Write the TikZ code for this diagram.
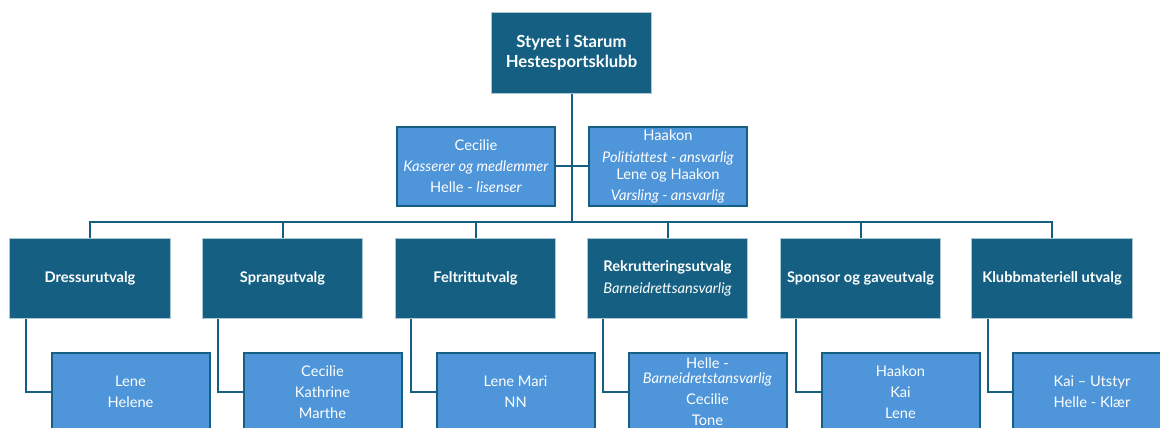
\documentclass[tikz,border=0pt]{standalone}
\usepackage{fontspec}
\setmainfont{Lato}
\usetikzlibrary{calc,backgrounds}
\definecolor{dk}{HTML}{156082}
\definecolor{lt}{HTML}{4E95D9}
\begin{document}
\begin{tikzpicture}[x=0.75pt,y=-0.75pt,
  dkbox/.style={rectangle, fill=dk, draw=white!65!dk, line width=0.6pt,
    minimum width=120.3pt, minimum height=60.3pt, inner sep=0pt, text=white,
    align=center, font=\bfseries\fontsize{11}{15.75}\selectfont},
  ltbox/.style={rectangle, fill=lt, draw=dk, line width=1.5pt,
    minimum width=118.5pt, minimum height=59.25pt, inner sep=0pt, text=white,
    align=center, font=\fontsize{11}{15.75}\selectfont},
  conn/.style={draw=dk, line width=1.5pt}]
\useasboundingbox (0,0) rectangle (1160,428);
\clip (0,0) rectangle (1160,428);

% top and assistants
\node[dkbox, font=\bfseries\fontsize{12.5}{15}\selectfont] (top) at (571.5,53) {Styret i Starum\\Hestesportsklubb};
\node[ltbox] (asl) at (476,166) {Cecilie\\\textit{Kasserer og medlemmer}\\Helle - \textit{lisenser}};
\node[ltbox] (asr) at (668,166) {Haakon\\[0.75pt]\textit{Politiattest - ansvarlig}\\[-3pt]Lene og Haakon\\\textit{Varsling - ansvarlig}};

% departments
\node[dkbox] (d1) at (90,278.5) {Dressurutvalg};
\node[dkbox] (d2) at (282.5,278.5) {Sprangutvalg};
\node[dkbox] (d3) at (475.5,278.5) {Feltrittutvalg};
\node[dkbox] (d4) at (667.5,278.5) {Rekrutteringsutvalg\\[0.75pt]{\mdseries\itshape Barneidrettsansvarlig}};
\node[dkbox] (d5) at (860.5,278.5) {Sponsor og gaveutvalg};
\node[dkbox] (d6) at (1052,278.5) {Klubbmateriell utvalg};

% children
\node[ltbox] (c1) at (130.5,392) {Lene\\Helene};
\node[ltbox] (c2) at (322.5,392) {Cecilie\\Kathrine\\Marthe};
\node[ltbox] (c3) at (515.5,392) {Lene Mari\\NN};
\node[ltbox] (c4) at (707.5,392) {Helle -\\[-4.5pt]\textit{Barneidretstansvarlig}\\Cecilie\\Tone};
\node[ltbox] (c5) at (900.5,392) {Haakon\\Kai\\Lene};
\node[ltbox] (c6) at (1092,392) {Kai -- Utstyr\\Helle - Klær};

\coordinate (bar) at (571.5,222);

\begin{scope}[on background layer]
\fill[white] (0,0) rectangle (1160,428);
\draw[conn] (top.south) -- (bar);
\draw[conn] (asl.east) -- (asr.west);
\draw[conn] (bar) -| (d1.north);
\draw[conn] (bar) -| (d6.north);
\foreach \d in {d2,d3,d4,d5}{
  \draw[conn] (\d.north) -- (\d.north |- bar);
}
\foreach \d/\c in {d1/c1,d2/c2,d3/c3,d4/c4,d5/c5,d6/c6}{
  \draw[conn] ($(\d.south west)+(16.5,0)$) |- (\c.west);
}
\end{scope}
\end{tikzpicture}
\end{document}
